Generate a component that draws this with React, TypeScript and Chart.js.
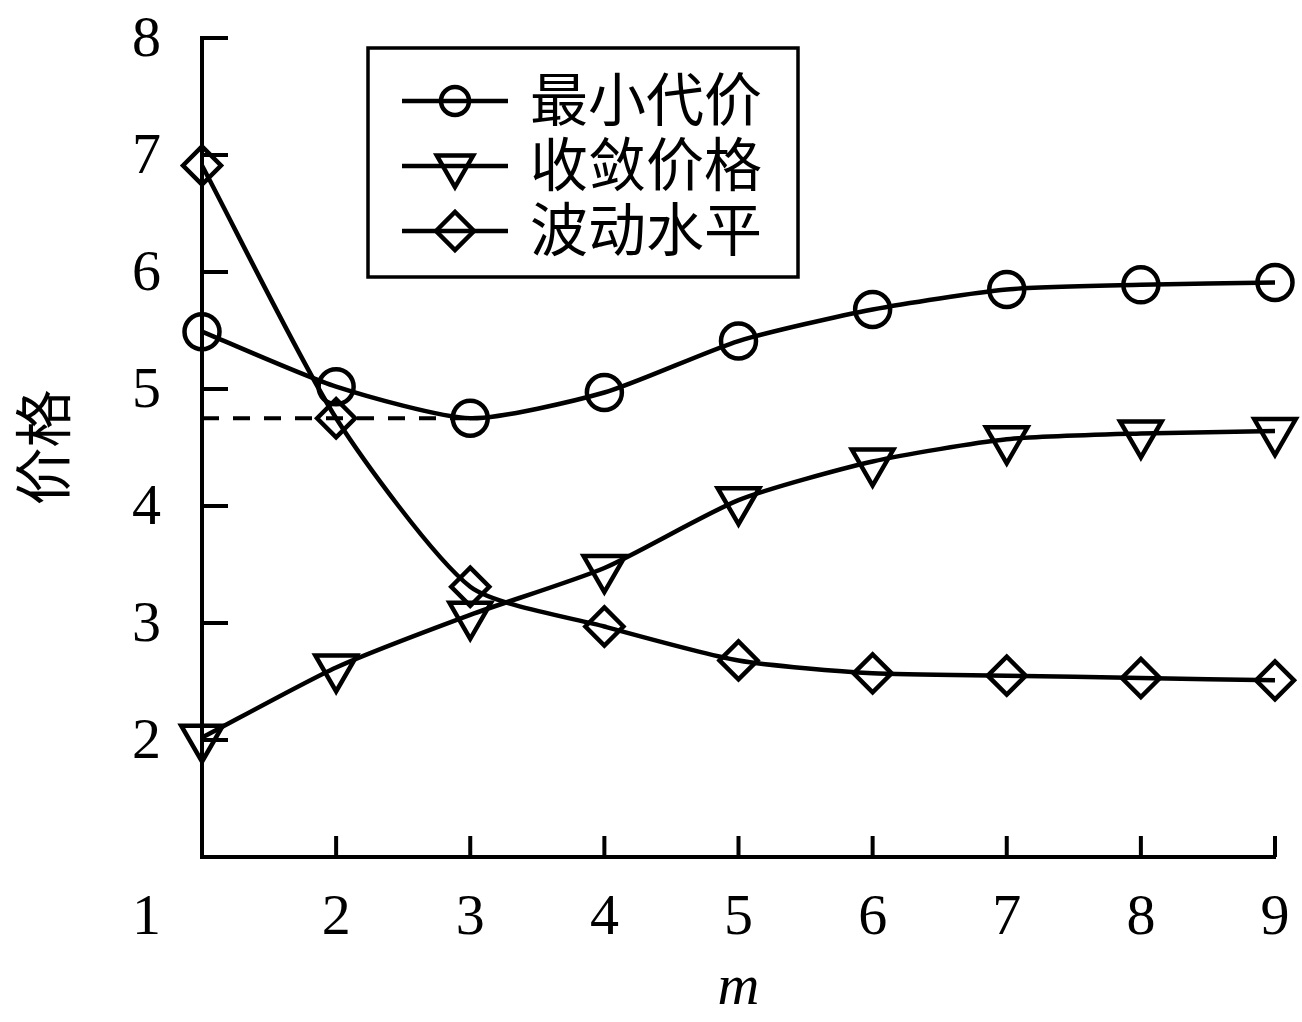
import React, { useEffect, useRef } from 'react';
import { Chart, registerables } from 'chart.js';

Chart.register(...registerables);

// ---- data ----
const mValues = [1, 2, 3, 4, 5, 6, 7, 8, 9];
const minCost = [5.49, 5.02, 4.75, 4.97, 5.41, 5.68, 5.85, 5.89, 5.91];
const convergencePrice = [2.02, 2.62, 3.07, 3.47, 4.05, 4.38, 4.57, 4.62, 4.64];
const fluctuation = [6.91, 4.75, 3.31, 2.97, 2.68, 2.57, 2.55, 2.53, 2.51];
const seriesNames = ['最小代价', '收敛价格', '波动水平'];
const xTickValues = [1, 2, 3, 4, 5, 6, 7, 8, 9];
const yTickValues = [2, 3, 4, 5, 6, 7, 8];
const xTitle = 'm';
const yTitle = '价格';

const SERIF = "'Liberation Serif', 'Times New Roman', serif";
const CJK = "'Noto Sans CJK SC', 'Noto Sans CJK JP', sans-serif";
const TICK_SIZE = 58;
const X_LABEL_PAD = 27;
const Y_LABEL_PAD = 41;
const LINE_W = 4.5;

// minimum of the min-cost curve (dashed reference line)
const minIdx = minCost.indexOf(Math.min(...minCost));
const dashLevel = minCost[minIdx];

function drawMarker(ctx: CanvasRenderingContext2D, style: string, cx: number, cy: number, r: number) {
  ctx.beginPath();
  if (style === 'circle') {
    ctx.arc(cx, cy, r, 0, Math.PI * 2);
  } else if (style === 'triangleDown') {
    const s = Math.sin(Math.PI / 3) * r;
    ctx.moveTo(cx, cy + r);
    ctx.lineTo(cx - s, cy - r / 2);
    ctx.lineTo(cx + s, cy - r / 2);
    ctx.closePath();
  } else {
    ctx.moveTo(cx - r, cy);
    ctx.lineTo(cx, cy - r);
    ctx.lineTo(cx + r, cy);
    ctx.lineTo(cx, cy + r);
    ctx.closePath();
  }
  ctx.stroke();
}

const axisDecorPlugin = {
  id: 'axisDecor',
  afterDraw(chart: any) {
    const ctx: CanvasRenderingContext2D = chart.ctx;
    const xs = chart.scales.x;
    const ys = chart.scales.y;
    const area = chart.chartArea;
    ctx.save();
    ctx.strokeStyle = '#000';
    ctx.lineWidth = 4;
    ctx.lineCap = 'butt';
    // inward y ticks
    yTickValues.forEach((v) => {
      const py = ys.getPixelForValue(v);
      ctx.beginPath();
      ctx.moveTo(area.left, py);
      ctx.lineTo(area.left + 26, py);
      ctx.stroke();
    });
    // inward x ticks
    xTickValues.forEach((v) => {
      const px = xs.getPixelForValue(v);
      ctx.beginPath();
      ctx.moveTo(px, area.bottom);
      ctx.lineTo(px, area.bottom - 21);
      ctx.stroke();
    });
    // first x tick label, placed in the y label column
    ctx.fillStyle = '#000';
    ctx.font = `${TICK_SIZE}px ${SERIF}`;
    ctx.textAlign = 'right';
    ctx.textBaseline = 'middle';
    ctx.fillText(String(xTickValues[0]), area.left - Y_LABEL_PAD, xs.top + X_LABEL_PAD + (TICK_SIZE * 1.2) / 2);
    ctx.restore();
  },
};

const legendMarkers = [
  { style: 'circle', r: 14 },
  { style: 'triangleDown', r: 21 },
  { style: 'diamond', r: 19 },
];

const legendPlugin = {
  id: 'boxLegend',
  afterDraw(chart: any) {
    const ctx: CanvasRenderingContext2D = chart.ctx;
    const bx = 368, by = 48, bw = 430, bh = 229;
    ctx.save();
    ctx.fillStyle = '#fff';
    ctx.fillRect(bx, by, bw, bh);
    ctx.strokeStyle = '#000';
    ctx.lineWidth = 3.5;
    ctx.strokeRect(bx, by, bw, bh);
    seriesNames.forEach((name, i) => {
      const cy = 101 + i * 65;
      ctx.lineWidth = LINE_W;
      ctx.beginPath();
      ctx.moveTo(402, cy);
      ctx.lineTo(508, cy);
      ctx.stroke();
      drawMarker(ctx, legendMarkers[i].style, 455, cy, legendMarkers[i].r);
      ctx.fillStyle = '#000';
      ctx.font = `${TICK_SIZE}px ${CJK}`;
      ctx.textAlign = 'left';
      ctx.textBaseline = 'middle';
      ctx.fillText(name, 530, cy - 2);
    });
    ctx.restore();
  },
};

export default function App() {
  const ref = useRef<HTMLCanvasElement | null>(null);

  useEffect(() => {
    document.body.style.margin = '0';
    const canvas = ref.current;
    if (!canvas) return;

    const common = {
      borderColor: '#000',
      borderWidth: LINE_W,
      pointBorderColor: '#000',
      pointBackgroundColor: 'rgba(0,0,0,0)',
      pointBorderWidth: LINE_W,
      pointHoverRadius: 0,
      tension: 0.22,
      fill: false,
      clip: false as any,
    };

    const chart = new Chart(canvas, {
      type: 'line',
      data: {
        datasets: [
          {
            label: 'dash',
            data: [
              { x: mValues[0], y: dashLevel },
              { x: mValues[minIdx], y: dashLevel },
            ],
            borderColor: '#000',
            borderWidth: 4,
            borderDash: [17, 14],
            pointRadius: 0,
            fill: false,
            clip: false as any,
          },
          {
            ...common,
            label: seriesNames[0],
            data: mValues.map((m, i) => ({ x: m, y: minCost[i] })),
            pointStyle: 'circle',
            pointRadius: 17.5,
          },
          {
            ...common,
            label: seriesNames[1],
            data: mValues.map((m, i) => ({ x: m, y: convergencePrice[i] })),
            pointStyle: 'triangle',
            pointRotation: 180,
            pointRadius: 24,
          },
          {
            ...common,
            label: seriesNames[2],
            data: mValues.map((m, i) => ({ x: m, y: fluctuation[i] })),
            pointStyle: 'rectRot',
            pointRadius: 19,
          },
        ],
      },
      options: {
        responsive: true,
        maintainAspectRatio: false,
        animation: false,
        events: [],
        layout: { autoPadding: false, padding: { top: 38, right: 27, bottom: 0, left: 0 } },
        plugins: {
          legend: { display: false },
          tooltip: { enabled: false },
        },
        scales: {
          x: {
            type: 'linear',
            min: 1,
            max: 9,
            afterFit: (s: any) => {
              s.height = 165;
              s.paddingLeft = 0;
              s.paddingRight = 0;
            },
            ticks: {
              stepSize: 1,
              autoSkip: false,
              maxRotation: 0,
              color: '#000',
              padding: X_LABEL_PAD,
              font: { family: SERIF, size: TICK_SIZE, lineHeight: 1.2 },
              callback: (v: any) => (v === xTickValues[0] ? '' : String(v)),
            },
            grid: { display: false, drawTicks: false, tickLength: 0 },
            border: { display: true, color: '#000', width: 4 },
            title: {
              display: true,
              text: xTitle,
              color: '#000',
              font: { family: SERIF, size: TICK_SIZE, style: 'italic', lineHeight: 1 },
              padding: { top: 0, bottom: 4 },
            },
          },
          y: {
            type: 'linear',
            min: 1,
            max: 8,
            afterFit: (s: any) => {
              s.width = 202;
              s.paddingTop = 0;
              s.paddingBottom = 0;
            },
            ticks: {
              stepSize: 1,
              color: '#000',
              padding: Y_LABEL_PAD,
              labelOffset: 3,
              font: { family: SERIF, size: TICK_SIZE, lineHeight: 1.2 },
              callback: (v: any) => (yTickValues.includes(v) ? String(v) : ''),
            },
            grid: { display: false, drawTicks: false, tickLength: 0 },
            border: { display: true, color: '#000', width: 4 },
            title: {
              display: true,
              text: yTitle,
              color: '#000',
              font: { family: CJK, size: TICK_SIZE, lineHeight: 1.2 },
              padding: { top: 8, bottom: 0 },
            },
          },
        },
      },
      plugins: [axisDecorPlugin, legendPlugin],
    });

    return () => chart.destroy();
  }, []);

  return (
    <div style={{ width: 1302, height: 1022, position: 'relative', background: '#fff' }}>
      <canvas ref={ref} />
    </div>
  );
}
